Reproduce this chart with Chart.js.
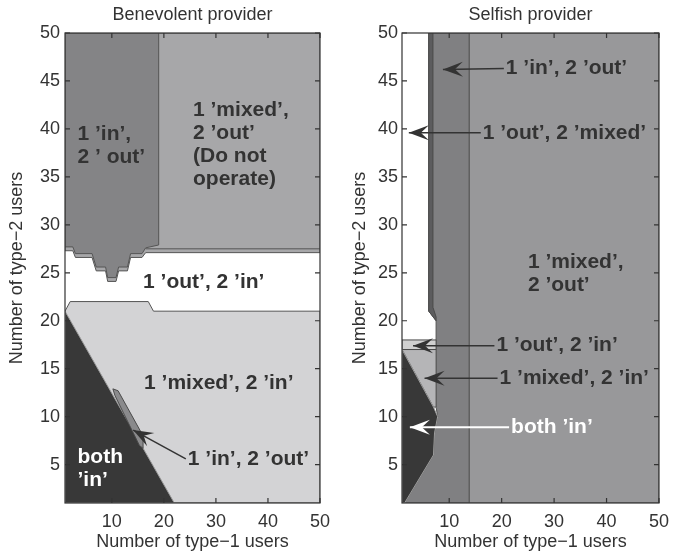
<!DOCTYPE html>
<html>
<head>
<meta charset="utf-8">
<script src="https://cdn.jsdelivr.net/npm/chart.js@4"></script>
<style>
  body { margin: 0; background: #fff; }
  #wrap { position: relative; width: 686px; height: 554px; }
  canvas { position: absolute; top: 0; }
</style>
</head>
<body>
<div id="wrap">
  <canvas id="benevolent" width="343" height="554" style="left:0"></canvas>
  <canvas id="selfish" width="343" height="554" style="left:343px"></canvas>
</div>
<script>
// tick values for both panels
const xTickValues = [10, 20, 30, 40, 50];
const yTickValues = [5, 10, 15, 20, 25, 30, 35, 40, 45, 50];

// Benevolent provider: region outlines in (type-1 users, type-2 users)
const benMixedIn = [[1, 1], [50, 1], [50, 21], [18, 21], [17, 22], [2, 22], [1, 21]];
const benBothIn = [[1, 1], [22, 1], [1, 21]];
const benInOutSliver = [[10.2, 12.9], [11.2, 12.7], [16, 8.0], [16, 6.7], [15.3, 7.0], [10.6, 12.2]];
const benMixedOut = [[1, 27.3], [2.5, 27.3], [3, 26.6], [6.2, 26.6], [7, 25.2], [8.8, 25.2], [9.2, 24.1], [10.8, 24.1],
    [11.3, 25.2], [13, 25.2], [13.6, 26.6], [15.8, 26.6], [16.5, 27.1], [50, 27.1], [50, 50], [1, 50]];
const benMixedOutEdge = [[16.5, 27.5], [50, 27.5]];
const benInOut = [[1, 27.7], [2.5, 27.7], [3, 27.0], [6.2, 27.0], [7, 25.6], [8.8, 25.6], [9.2, 24.5], [10.8, 24.5],
    [11.3, 25.6], [13, 25.6], [13.6, 27.0], [15.8, 27.0], [16.5, 27.6], [19, 27.9], [19, 50], [1, 50]];

// Selfish provider
const selMixedOut = [[13.8, 1], [50, 1], [50, 50], [13.8, 50]];
const selInOut = [[6.1, 50], [13.8, 50], [13.8, 1], [1.5, 1], [7, 6], [7.2, 8.3], [7.8, 10], [7.5, 11], [7.5, 20], [6.1, 21]];
const selInOutStrip = [[6.1, 50], [6.9, 50], [6.9, 21.4], [7.5, 20.4], [7.5, 20], [6.1, 21]];
const selMixedIn = [[1, 17], [7.5, 17], [7.5, 11], [7, 11]];
const selOutIn = [[1, 17], [7.5, 17], [7.5, 18], [1, 18]];
const selBothIn = [[1, 1], [1.5, 1], [7, 6], [7.2, 8.3], [7.8, 10], [7, 11], [1, 17]];

// labels: text lines, left edge / first line centre in data units, optional arrow tip
const benLabels = [
    { lines: ["1 ’in’,", "2 ’ out’"], x: 3.4, y: 39.5 },
    { lines: ["1 ’mixed’,", "2 ’out’", "(Do not", "operate)"], x: 25.6, y: 41.9 },
    { lines: ["1 ’out’, 2 ’in’"], x: 16.0, y: 24.0 },
    { lines: ["1 ’mixed’, 2 ’in’"], x: 16.2, y: 13.5 },
    { lines: ["both", "’in’"], x: 3.4, y: 5.8, white: true },
    { lines: ["1 ’in’, 2 ’out’"], x: 24.6, y: 5.6, tip: [14.1, 8.6] }
];
const selLabels = [
    { lines: ["1 ’in’, 2 ’out’"], x: 20.8, y: 46.3, tip: [8.8, 46.2] },
    { lines: ["1 ’out’, 2 ’mixed’"], x: 16.4, y: 39.6, tip: [2.3, 39.6] },
    { lines: ["1 ’mixed’,", "2 ’out’"], x: 25.0, y: 26.1 },
    { lines: ["1 ’out’, 2 ’in’"], x: 19.0, y: 17.4, tip: [3.1, 17.4] },
    { lines: ["1 ’mixed’, 2 ’in’"], x: 19.6, y: 14.0, tip: [5.3, 14.0] },
    { lines: ["both ’in’"], x: 21.8, y: 8.9, tip: [2.5, 8.9], white: true }
];

const FONT = "'Liberation Sans', Arial, sans-serif";
const INK = '#333333';

function region(points, fill, stroke, kind) {
    return {
        data: points.map(p => ({ x: p[0], y: p[1] })),
        kind: kind || 'region',
        fillColor: fill,
        strokeColor: stroke || '#555555',
        showLine: false,
        pointRadius: 0,
        pointHoverRadius: 0
    };
}

// draws the filled regions from the point elements placed by the scales
const regionPlugin = {
    id: 'regions',
    beforeDatasetsDraw(chart) {
        const ctx = chart.ctx;
        const a = chart.chartArea;
        ctx.save();
        ctx.beginPath();
        ctx.rect(a.left, a.top, a.right - a.left, a.bottom - a.top);
        ctx.clip();
        chart.data.datasets.forEach((ds, i) => {
            const pts = chart.getDatasetMeta(i).data;
            ctx.beginPath();
            pts.forEach((p, j) => j ? ctx.lineTo(p.x, p.y) : ctx.moveTo(p.x, p.y));
            ctx.lineWidth = 1;
            ctx.strokeStyle = ds.strokeColor;
            if (ds.kind === 'region') {
                ctx.closePath();
                ctx.fillStyle = ds.fillColor;
                ctx.fill();
            }
            ctx.stroke();
        });
        ctx.restore();
    },
    afterDatasetsDraw(chart) {
        const ctx = chart.ctx;
        const a = chart.chartArea;
        const xs = chart.scales.x, ys = chart.scales.y;
        ctx.save();
        // frame and inward ticks
        ctx.strokeStyle = INK;
        ctx.lineWidth = 1.2;
        ctx.strokeRect(a.left, a.top, a.right - a.left, a.bottom - a.top);
        ctx.beginPath();
        xTickValues.forEach(v => {
            const px = xs.getPixelForValue(v);
            ctx.moveTo(px, a.bottom); ctx.lineTo(px, a.bottom - 5);
            ctx.moveTo(px, a.top); ctx.lineTo(px, a.top + 5);
        });
        yTickValues.forEach(v => {
            const py = ys.getPixelForValue(v);
            ctx.moveTo(a.left, py); ctx.lineTo(a.left + 5, py);
            ctx.moveTo(a.right, py); ctx.lineTo(a.right - 5, py);
        });
        ctx.stroke();

        // labels and arrows
        const labels = chart.options.plugins.regions.labels;
        ctx.font = "bold 21px " + FONT;
        ctx.textBaseline = 'middle';
        ctx.textAlign = 'left';
        labels.forEach(l => {
            const col = l.white ? '#ffffff' : '#333333';
            const lx = xs.getPixelForValue(l.x);
            const ly = ys.getPixelForValue(l.y);
            ctx.fillStyle = col;
            l.lines.forEach((t, k) => ctx.fillText(t, lx, ly + k * 23));
            if (l.tip) {
                const tx = xs.getPixelForValue(l.tip[0]);
                const ty = ys.getPixelForValue(l.tip[1]);
                const sx = lx - 2, sy = ly;
                ctx.strokeStyle = col;
                ctx.lineWidth = l.white ? 2 : 1.5;
                ctx.beginPath();
                ctx.moveTo(sx, sy);
                ctx.lineTo(tx, ty);
                ctx.stroke();
                const ang = Math.atan2(sy - ty, sx - tx);
                const L = 20, W = 7.5;
                const c = Math.cos(ang), s = Math.sin(ang);
                ctx.beginPath();
                ctx.moveTo(tx, ty);
                ctx.lineTo(tx + L * c - W * s, ty + L * s + W * c);
                ctx.lineTo(tx + 0.6 * L * c, ty + 0.6 * L * s);
                ctx.lineTo(tx + L * c + W * s, ty + L * s - W * c);
                ctx.closePath();
                ctx.fillStyle = col;
                ctx.fill();
            }
        });
        ctx.restore();
    }
};

function makeChart(id, title, datasets, labels, yWidth, rightPad, tickPad) {
    return new Chart(document.getElementById(id), {
        type: 'scatter',
        data: { datasets: datasets },
        plugins: [regionPlugin],
        options: {
            responsive: false,
            animation: false,
            events: [],
            layout: { padding: { left: 0, right: rightPad, top: 0, bottom: 0 } },
            plugins: {
                legend: { display: false },
                tooltip: { enabled: false },
                title: {
                    display: true,
                    fullSize: false,
                    text: title,
                    color: INK,
                    font: { family: FONT, size: 18, weight: 'normal' },
                    padding: { top: 4, bottom: 7.4 }
                },
                regions: { labels: labels }
            },
            scales: {
                x: {
                    type: 'linear',
                    min: 1,
                    max: 50,
                    grid: { display: false, drawTicks: false },
                    border: { display: false },
                    afterBuildTicks: s => { s.ticks = xTickValues.map(v => ({ value: v })); },
                    afterFit: s => { s.height = 51; },
                    ticks: { color: INK, padding: 8, font: { family: FONT, size: 18 }, maxRotation: 0 },
                    title: {
                        display: true,
                        text: 'Number of type−1 users',
                        color: INK,
                        font: { family: FONT, size: 18 },
                        padding: { top: 0, bottom: 1.5 }
                    }
                },
                y: {
                    type: 'linear',
                    min: 1,
                    max: 50,
                    grid: { display: false, drawTicks: false },
                    border: { display: false },
                    afterBuildTicks: s => { s.ticks = yTickValues.map(v => ({ value: v })); },
                    afterFit: s => { s.width = yWidth; },
                    ticks: { color: INK, padding: tickPad, font: { family: FONT, size: 18 } },
                    title: {
                        display: true,
                        text: 'Number of type−2 users',
                        color: INK,
                        font: { family: FONT, size: 18 },
                        padding: { top: 6, bottom: 0 }
                    }
                }
            }
        }
    });
}

makeChart('benevolent', 'Benevolent provider', [
    region(benMixedIn, '#d3d3d5'),
    region(benBothIn, '#383838', '#9a9a9a'),
    region(benInOutSliver, '#8a8a8c', '#4a4a4a'),
    region(benMixedOut, '#a7a7a9'),
    region(benMixedOutEdge, null, '#555555', 'edge'),
    region(benInOut, '#848486')
], benLabels, 65, 23, 5);

makeChart('selfish', 'Selfish provider', [
    region(selMixedOut, '#98989a'),
    region(selInOut, '#808082'),
    region(selInOutStrip, '#5c5c5e', '#4a4a4a'),
    region(selMixedIn, '#b5b5b7'),
    region(selOutIn, '#d0d0d0', '#4a4a4a'),
    region(selBothIn, '#383838', '#9a9a9a')
], selLabels, 59, 27, 4);
</script>
</body>
</html>
